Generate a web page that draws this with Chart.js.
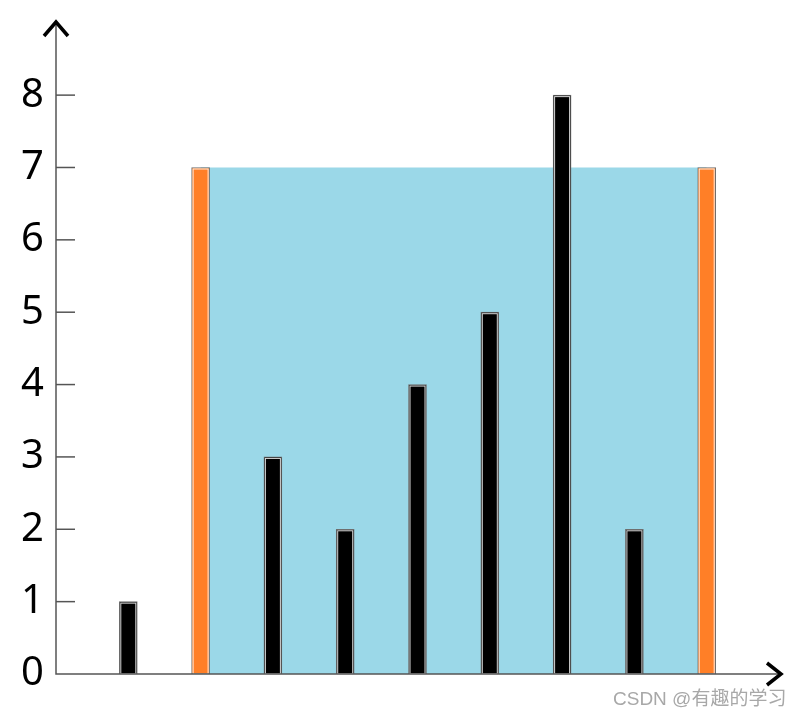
<!DOCTYPE html>
<html>
<head>
<meta charset="utf-8">
<script src="https://cdn.jsdelivr.net/npm/chart.js@4"></script>
<style>
  body { margin: 0; background: #fff; }
  #wrap { position: relative; width: 797px; height: 715px; }
  #mark {
    position: absolute; left: 613px; top: 683px;
    font: 19px "Liberation Sans", "Noto Sans CJK SC", sans-serif;
    color: #a8a8a8; white-space: nowrap;
  }
</style>
</head>
<body>
<div id="wrap">
  <canvas id="water"></canvas>
  <div id="mark">CSDN @有趣的学习</div>
</div>
<script>
// hauteurs des barres
const positions = [1, 2, 3, 4, 5, 6, 7, 8, 9]
const heights = [1, 7, 3, 2, 4, 5, 8, 2, 7]
// les deux bords du récipient (en orange)
const walls = [1, 8]
// l'eau entre les deux bords
const waterX = [2, 9]
const waterLevel = 7
const yTicks = [0, 1, 2, 3, 4, 5, 6, 7, 8]

const barColors = heights.map((_, i) => walls.includes(i) ? '#ff7f27' : '#000000')

// axes avec flèches + petites graduations vers l'intérieur
const axesPlugin = {
    id: 'axes',
    afterDatasetsDraw(chart) {
        const { ctx, chartArea: a, scales } = chart
        const y = scales.y
        ctx.save()
        // inset blanc dans les barres
        const meta = chart.getDatasetMeta(1)
        ctx.strokeStyle = 'rgba(255,255,255,0.85)'
        ctx.lineWidth = 1
        meta.data.forEach(bar => {
            const p = bar.getProps(['x', 'y', 'base', 'width'], true)
            ctx.strokeRect(p.x - p.width / 2 + 1.5, p.y + 1.5, p.width - 3, p.base - p.y - 1.5)
        })
        // lignes des axes
        ctx.strokeStyle = '#555'
        ctx.lineWidth = 1.5
        ctx.beginPath()
        ctx.moveTo(a.left, a.top - 6)
        ctx.lineTo(a.left, a.bottom)
        ctx.lineTo(a.right, a.bottom)
        ctx.stroke()
        yTicks.slice(1).forEach(v => {
            const py = y.getPixelForValue(v)
            ctx.beginPath()
            ctx.moveTo(a.left, py)
            ctx.lineTo(a.left + 19, py)
            ctx.stroke()
        })
        // flèches
        ctx.strokeStyle = '#000'
        ctx.lineWidth = 3.5
        ctx.lineJoin = 'miter'
        ctx.beginPath()
        ctx.moveTo(a.left - 12, a.top + 6)
        ctx.lineTo(a.left, a.top - 8)
        ctx.lineTo(a.left + 12, a.top + 6)
        ctx.stroke()
        ctx.beginPath()
        ctx.moveTo(a.right - 12, a.bottom - 11)
        ctx.lineTo(a.right + 2, a.bottom)
        ctx.lineTo(a.right - 12, a.bottom + 11)
        ctx.stroke()
        ctx.restore()
    }
}

new Chart(document.getElementById('water'), {
    type: 'bar',
    data: {
        datasets: [
            {
                type: 'line',
                data: waterX.map(x => ({ x, y: waterLevel })),
                fill: 'origin',
                backgroundColor: '#9bd8e8',
                borderWidth: 0,
                pointRadius: 0,
                order: 2
            },
            {
                data: positions.map((x, i) => ({ x, y: heights[i] })),
                backgroundColor: barColors,
                borderColor: '#6e6e6e',
                borderWidth: 1,
                borderSkipped: false,
                barThickness: 18,
                order: 1
            }
        ]
    },
    options: {
        responsive: true,
        maintainAspectRatio: false,
        animation: false,
        layout: { padding: { top: 30, right: 18, bottom: 41, left: 0 } },
        plugins: { legend: { display: false }, tooltip: { enabled: false } },
        scales: {
            x: {
                type: 'linear',
                min: 0,
                max: 10,
                offset: false,
                display: false
            },
            y: {
                min: 0,
                max: 8.9,
                afterBuildTicks: s => { s.ticks = yTicks.map(value => ({ value })) },
                afterFit: s => {
                    s.width = 56
                    s.paddingTop = 0
                    s.paddingBottom = 0
                },
                grid: { display: false, drawTicks: false },
                border: { display: false },
                ticks: {
                    padding: 12,
                    color: '#000',
                    font: { family: 'Noto Sans', size: 40 }
                }
            }
        }
    },
    plugins: [axesPlugin]
})
</script>
</body>
</html>
